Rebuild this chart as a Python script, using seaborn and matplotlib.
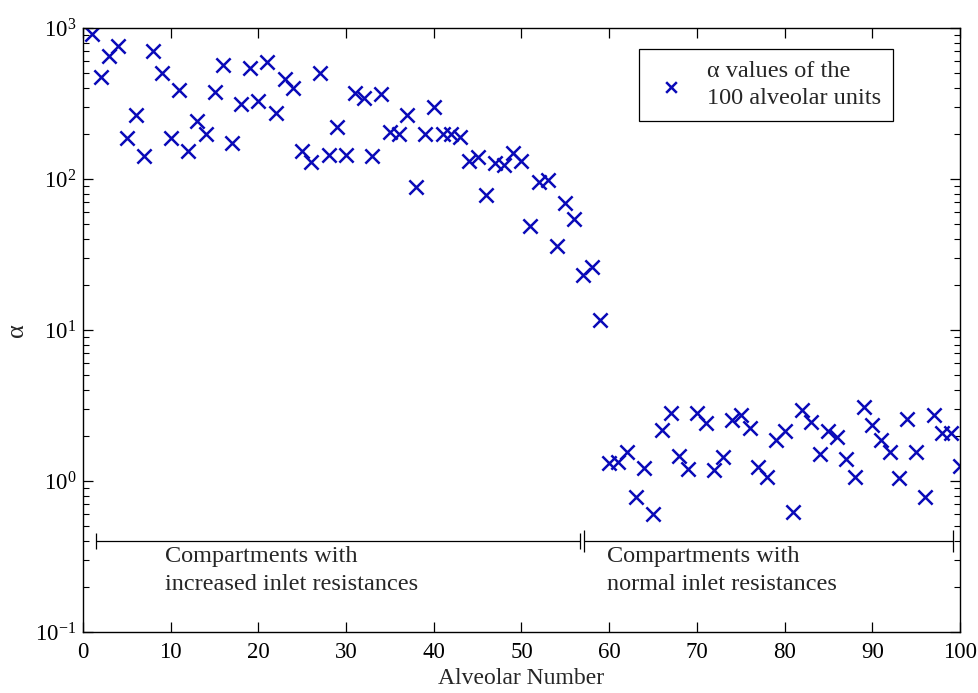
import matplotlib
matplotlib.use("Agg")
import matplotlib.pyplot as plt
import matplotlib.ticker as tick
import numpy as np
import pandas as pd
import seaborn as sns

# alpha value of each alveolar unit (log scale)
alveolar_number = list(range(1, 101))
alpha_values = [
    910, 475, 650, 763, 186, 265, 142, 707, 500, 186,
    388, 154, 244, 200, 378, 570, 172, 314, 546, 330,
    597, 275, 457, 399, 154, 129, 500, 145, 220, 145,
    370, 342, 141, 365, 206, 198, 265, 89, 200, 302,
    198, 198, 190, 132, 139, 78, 127, 123, 148, 132,
    49, 96, 98, 36, 69, 54, 23, 26, 11.7, 1.31,
    1.34, 1.55, 0.78, 1.21, 0.60, 2.19, 2.82, 1.47, 1.20, 2.82,
    2.44, 1.18, 1.44, 2.52, 2.75, 2.24, 1.23, 1.06, 1.87, 2.13,
    0.62, 2.95, 2.46, 1.51, 2.14, 1.96, 1.40, 1.07, 3.1, 2.35,
    1.86, 1.56, 1.05, 2.57, 1.56, 0.78, 2.75, 2.09, 2.09, 1.26,
]

# compartment groups shown by the brackets
group_labels = ["Compartments with\nincreased inlet resistances",
                "Compartments with\nnormal inlet resistances"]
group_start = [1.5, 57.1]
group_end = [56.7, 99.2]
group_text_x = [9.3, 59.7]
bracket_y = 0.40

legend_label = "\u03b1 values of the\n100 alveolar units"

df = pd.DataFrame({"Alveolar Number": alveolar_number, "alpha": alpha_values})

sns.set_theme(style="ticks")
plt.rcParams["font.family"] = ["Liberation Serif", "DejaVu Serif"]
plt.rcParams["mathtext.fontset"] = "stix"
plt.rcParams["xtick.direction"] = "in"
plt.rcParams["ytick.direction"] = "in"

fig = plt.figure(figsize=(9.79, 6.93), dpi=100)
ax = fig.add_axes([83 / 979, 1 - 632 / 693, 877 / 979, 604 / 693])

sns.scatterplot(data=df, x="Alveolar Number", y="alpha", marker="x",
                color="#0a0ab8", s=105, linewidth=1.8, ax=ax, label=legend_label)

ax.set_yscale("log")
ax.set_xlim(0, 100)
ax.set_ylim(0.1, 1000)
ax.xaxis.set_major_locator(tick.MultipleLocator(10))
ax.yaxis.set_major_locator(tick.LogLocator(base=10, numticks=10))
ax.yaxis.set_minor_locator(tick.LogLocator(base=10, subs=np.arange(2, 10), numticks=20))
ax.yaxis.set_minor_formatter(tick.NullFormatter())

ax.tick_params(which="both", top=True, right=True, colors="black", labelsize=16.5)
ax.tick_params(which="major", length=7, width=0.9)
ax.tick_params(which="minor", length=4, width=0.8)
ax.tick_params(axis="x", pad=7)
ax.tick_params(axis="y", pad=5)
for s in ax.spines.values():
    s.set_color("black")
    s.set_linewidth(1.0)

ax.set_xlabel("Alveolar Number", fontsize=17, labelpad=4)
ax.set_ylabel("\u03b1", fontsize=19, labelpad=5)

# brackets marking the two compartment groups
caps = [6, 8]
for a, b, txt, tx, cs in zip(group_start, group_end, group_labels, group_text_x, caps):
    ax.errorbar([(a + b) / 2], [bracket_y], xerr=[[(b - a) / 2], [(b - a) / 2]],
                fmt="none", ecolor="black", elinewidth=0.9, capsize=cs, capthick=0.9)
    ax.text(tx, 0.37, txt, fontsize=17.5, va="top", ha="left", linespacing=1.42)

leg = ax.legend(loc="upper right", bbox_to_anchor=(0.924, 0.966), fontsize=17.5,
                frameon=True, fancybox=False, edgecolor="black", framealpha=1,
                handletextpad=0.7, borderpad=0.5, borderaxespad=0, markerscale=0.75,
                handlelength=1.6)
leg.get_frame().set_linewidth(0.9)
for t in leg.get_texts():
    t.set_linespacing(1.4)

fig.savefig("out.png", dpi=100, facecolor="white")
